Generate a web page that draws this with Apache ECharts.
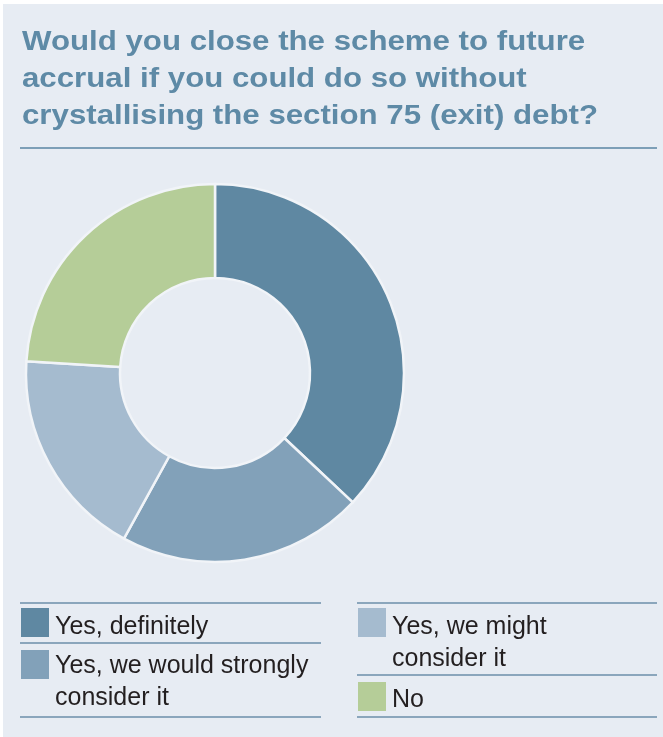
<!DOCTYPE html>
<html>
<head>
<meta charset="utf-8">
<script src="https://cdn.jsdelivr.net/npm/echarts@6/dist/echarts.min.js"></script>
<style>
html,body{margin:0;padding:0;background:#ffffff;}
#chart{width:663px;height:737px;}
</style>
</head>
<body>
<div id="chart"></div>
<script>
// ---- data ----
var titleText = 'Would you close the scheme to future\naccrual if you could do so without\ncrystallising the section 75 (exit) debt?';
var categories = ['Yes, definitely', 'Yes, we would strongly consider it', 'Yes, we might consider it', 'No'];
var legendLabels = ['Yes, definitely', 'Yes, we would strongly\nconsider it', 'Yes, we might\nconsider it', 'No'];
var values = [37, 21, 18, 24];
var colors = ['#5f88a2', '#82a1b9', '#a5bbcf', '#b5cd98'];

var chart = echarts.init(document.getElementById('chart'), null, {renderer: 'canvas'});

var lineColor = '#8ba6bc';
var graphics = [
  {type: 'rect', z: -10, shape: {x: 3, y: 4, width: 660, height: 733}, style: {fill: '#e7ecf3'}},
  {type: 'line', shape: {x1: 20, y1: 148, x2: 657, y2: 148}, style: {stroke: '#7d9fb7', lineWidth: 2}},
  {type: 'text', x: 22, y: 24, scaleX: 1.115, style: {
    text: titleText, fill: '#5e8aa6', font: 'bold 28px "Liberation Sans", Arial, sans-serif',
    lineHeight: 37, verticalAlign: 'top', align: 'left'
  }}
];
var leftLines = [603, 643, 717];
var rightLines = [603, 675, 717];
leftLines.forEach(function(y){
  graphics.push({type: 'line', shape: {x1: 20, y1: y, x2: 321, y2: y}, style: {stroke: lineColor, lineWidth: 2}});
});
rightLines.forEach(function(y){
  graphics.push({type: 'line', shape: {x1: 357, y1: y, x2: 657, y2: y}, style: {stroke: lineColor, lineWidth: 2}});
});
// legend items
var legendPos = [
  {x: 21, y: 608, tx: 55, ty: 611},
  {x: 21, y: 650, tx: 55, ty: 650},
  {x: 358, y: 608, tx: 392, ty: 611},
  {x: 358, y: 682, tx: 392, ty: 684}
];
categories.forEach(function(c, i){
  var p = legendPos[i];
  graphics.push({type: 'rect', shape: {x: p.x, y: p.y, width: 28, height: 29}, style: {fill: colors[i]}});
  graphics.push({type: 'text', x: p.tx, y: p.ty, style: {
    text: legendLabels[i], fill: '#231f20', font: '25px "Liberation Sans", Arial, sans-serif',
    lineHeight: 32, verticalAlign: 'top', align: 'left'
  }});
});

chart.setOption({
  backgroundColor: '#ffffff',
  animation: false,
  graphic: graphics,
  series: [{
    type: 'pie',
    center: [215, 373],
    radius: [95, 189],
    startAngle: 90,
    clockwise: true,
    label: {show: false},
    labelLine: {show: false},
    itemStyle: {borderColor: '#f1f4f8', borderWidth: 2.5},
    emphasis: {disabled: true},
    data: categories.map(function(c, i){
      return {name: c, value: values[i], itemStyle: {color: colors[i]}};
    })
  }]
});
</script>
</body>
</html>
